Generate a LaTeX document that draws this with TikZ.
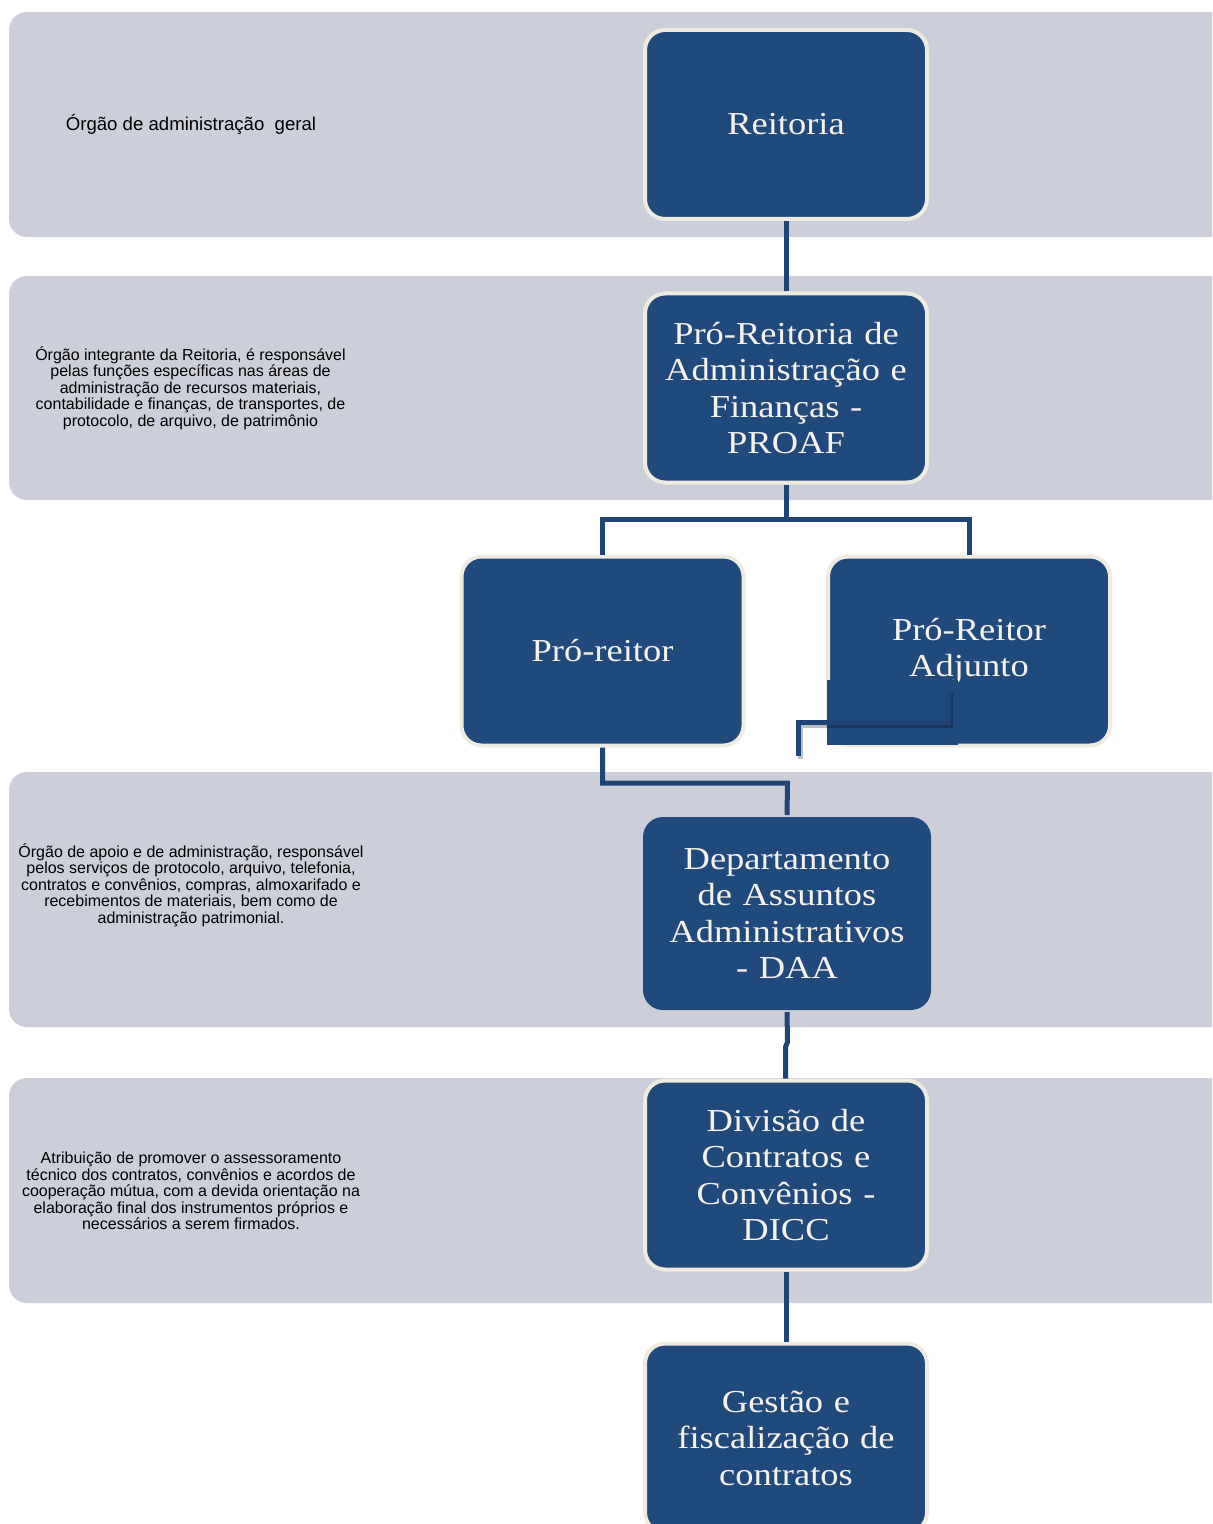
\documentclass[tikz,border=0pt]{standalone}
\usepackage{fontspec}
\setmainfont{Liberation Serif}
\newfontfamily\boxfont[FakeStretch=1.14]{Liberation Serif}
\newfontfamily\notefont{Liberation Sans}
\definecolor{bandgray}{HTML}{CCCFD9}
\definecolor{boxblue}{HTML}{214A7C}
\definecolor{rimcream}{HTML}{EEEBE1}
\definecolor{linkblue}{HTML}{1E4576}
\definecolor{boxtext}{HTML}{F4F2EB}
\begin{document}
\begin{tikzpicture}[x=0.5pt,y=-0.5pt,
  band/.style={fill=bandgray, rounded corners=9pt},
  unit/.style={fill=boxblue, draw=rimcream, line width=2pt, rounded corners=10pt,
    minimum width=141pt, minimum height=94.5pt, text width=132pt, align=center,
    text=boxtext, font=\boxfont\fontsize{16}{18.25}\selectfont, inner sep=0pt},
  plainunit/.style={unit, draw=none, minimum width=144pt, minimum height=96.5pt},
  note/.style={align=center, font=\notefont\fontsize{8}{8.25}\selectfont, text=black, inner sep=0pt},
  link/.style={draw=linkblue, line width=2.5pt}]
\useasboundingbox (0,0) rectangle (1212,1524);
\clip (0,0) rectangle (1212,1524);

% background bands
\fill[band] (9,12) rectangle (1230,237);
\fill[band] (9,276) rectangle (1230,500);
\fill[band] (9,772) rectangle (1230,1027);
\fill[band] (9,1078) rectangle (1230,1303);

% descriptions
\node[note, font=\notefont\fontsize{9.3}{10}\selectfont] (t1) at (191,124) {Órgão de administração\ \ geral};
\node[note] (t2) at (190.5,388) {Órgão integrante da Reitoria, é responsável\\pelas funções específicas nas áreas de\\administração de recursos materiais,\\contabilidade e finanças, de transportes, de\\protocolo, de arquivo, de patrimônio};
\node[note] (t3) at (191,885) {Órgão de apoio e de administração, responsável\\pelos serviços de protocolo, arquivo, telefonia,\\contratos e convênios, compras, almoxarifado e\\recebimentos de materiais, bem como de\\administração patrimonial.};
\node[note] (t4) at (191,1191) {Atribuição de promover o assessoramento\\técnico dos contratos, convênios e acordos de\\cooperação mútua, com a devida orientação na\\elaboração final dos instrumentos próprios e\\necessários a serem firmados.};

% joints of the connectors
\coordinate (j1) at (786,519);
\coordinate (j2) at (787.5,783);
\coordinate (j3) at (787.5,1042);
\coordinate (j4) at (785.5,1047);

% units
\node[unit] (reit) at (786,124.5) {Reitoria};
\node[unit] (proaf) at (786,388) {Pró-Reitoria de\\Administração e\\Finanças -\\PROAF};
\node[unit] (pr) at (602.5,651) {Pró-reitor};
\node[unit] (pra) at (969,651) {Pró-Reitor\\Adjunto};
\node[plainunit] (daa) at (787,913.5) {Departamento\\de Assuntos\\Administrativos\\- DAA};
\node[unit] (dicc) at (786,1175) {Divisão de\\Contratos e\\Convênios -\\DICC};
\node[unit] (gest) at (786,1438) {Gestão e\\fiscalização de\\contratos};

\draw[link] (reit.south) -- (proaf.north);
\draw[link] (proaf.south) -- (j1) -| (pr.north);
\draw[link] (j1) -| (pra.north);
\draw[link] (pr.south) |- (j2) -- (daa.north);
\draw[link] (daa.south) -- (j3) -- (j4) -- (dicc.north -| j4);
\draw[link] (dicc.south) -- (gest.north);

% loose elbow lying over the adjunct box
\fill[boxblue] (827,680) rectangle (958,745);
\coordinate (e1) at (948,690);
\coordinate (e2) at (798,756);
\draw[black, line width=2.5pt, opacity=0.25] ([shift={(2,3)}]e1) |- ([shift={(2,3)}]e2 |- 0,722) -- ([shift={(2,3)}]e2);
\draw[link] (e1) |- (e2 |- 0,722) -- (e2);
\end{tikzpicture}
\end{document}
